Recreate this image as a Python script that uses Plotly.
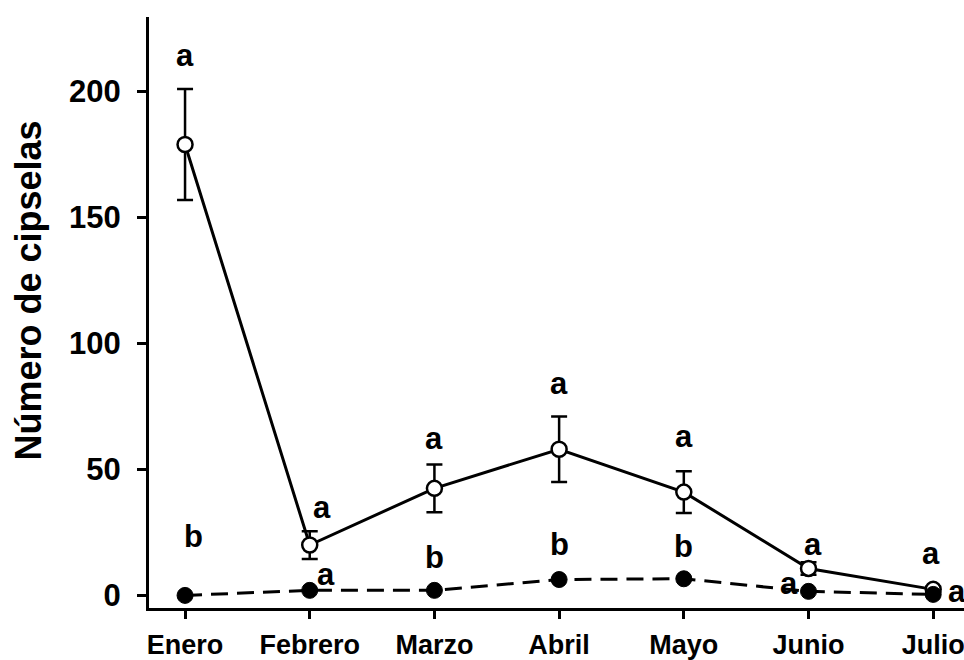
import plotly.graph_objects as go

# Monthly cypsela counts (mean ± error) for two groups
months = ["Enero", "Febrero", "Marzo", "Abril", "Mayo", "Junio", "Julio"]
open_mean = [179, 20, 42.5, 58, 41, 10.7, 2.4]
open_err = [22, 5.5, 9.5, 13, 8.3, 2.5, 1.0]
filled_mean = [0, 2, 2, 6.3, 6.6, 1.6, 0.4]
filled_err = [0.3, 0.5, 0.5, 1.0, 1.0, 0.4, 0.2]

# Significance letters for each group
open_letters = ["a", "a", "a", "a", "a", "a", "a"]
filled_letters = ["b", "a", "b", "b", "b", "a", "a"]

y_ticks = [0, 50, 100, 150, 200]

# Label offsets in pixels (xshift, yshift)
open_shift = [(0, 34), (12, 24), (0, 26), (0, 33), (0, 35), (4, 18), (-2, 33)]
filled_shift = [(8, 59), (16, 16), (0, 33), (0, 35), (0, 32), (-20, 8), (24, 3)]

FONT = "Liberation Sans"
x = list(range(len(months)))

fig = go.Figure()

fig.add_trace(go.Scatter(
    x=x, y=open_mean, mode="lines+markers",
    line=dict(color="black", width=3),
    marker=dict(symbol="circle", size=15, color="white",
                line=dict(color="black", width=2.5)),
    error_y=dict(type="data", array=open_err, visible=True,
                 color="black", thickness=2.5, width=8),
    showlegend=False,
))

fig.add_trace(go.Scatter(
    x=x, y=filled_mean, mode="lines+markers",
    line=dict(color="black", width=3, dash="17px,9px"),
    marker=dict(symbol="circle", size=16, color="black",
                line=dict(color="black", width=1)),
    error_y=dict(type="data", array=filled_err, visible=True,
                 color="black", thickness=2, width=6),
    showlegend=False,
))

annotations = []
for i in x:
    xs, ys = open_shift[i]
    annotations.append(dict(
        x=i, y=open_mean[i] + open_err[i], xref="x", yref="y",
        text=open_letters[i], showarrow=False, xshift=xs, yshift=ys,
        font=dict(family=FONT, size=31, color="black", weight="bold"),
    ))
    xs, ys = filled_shift[i]
    annotations.append(dict(
        x=i, y=filled_mean[i], xref="x", yref="y",
        text=filled_letters[i], showarrow=False, xshift=xs, yshift=ys,
        font=dict(family=FONT, size=31, color="black", weight="bold"),
    ))

annotations.append(dict(
    x=0, y=0.5, xref="paper", yref="paper", xshift=-121, yshift=22,
    text="Número de cipselas", textangle=-90, showarrow=False,
    xanchor="center",
    font=dict(family=FONT, size=36, color="black", weight="bold"),
))

fig.update_layout(
    width=964, height=660,
    margin=dict(l=149, r=0, t=17, b=52),
    paper_bgcolor="white", plot_bgcolor="white",
    annotations=annotations,
    xaxis=dict(
        range=[-0.289, 6.247], tickvals=x, ticktext=months,
        showline=True, linecolor="black", linewidth=3,
        ticks="outside", ticklen=8, tickwidth=3, tickcolor="black",
        showgrid=False, zeroline=False, ticklabelstandoff=3,
        ticklabeloverflow="allow", automargin=False,
        tickfont=dict(family=FONT, size=27, color="black", weight="bold"),
    ),
    yaxis=dict(
        range=[-5, 229.6], tickvals=y_ticks,
        showline=True, linecolor="black", linewidth=3,
        ticks="outside", ticklen=9, tickwidth=3, tickcolor="black",
        showgrid=False, zeroline=False, ticklabelstandoff=10,
        automargin=False,
        tickfont=dict(family=FONT, size=31, color="black", weight="bold"),
    ),
)

fig.write_html("out.html")
